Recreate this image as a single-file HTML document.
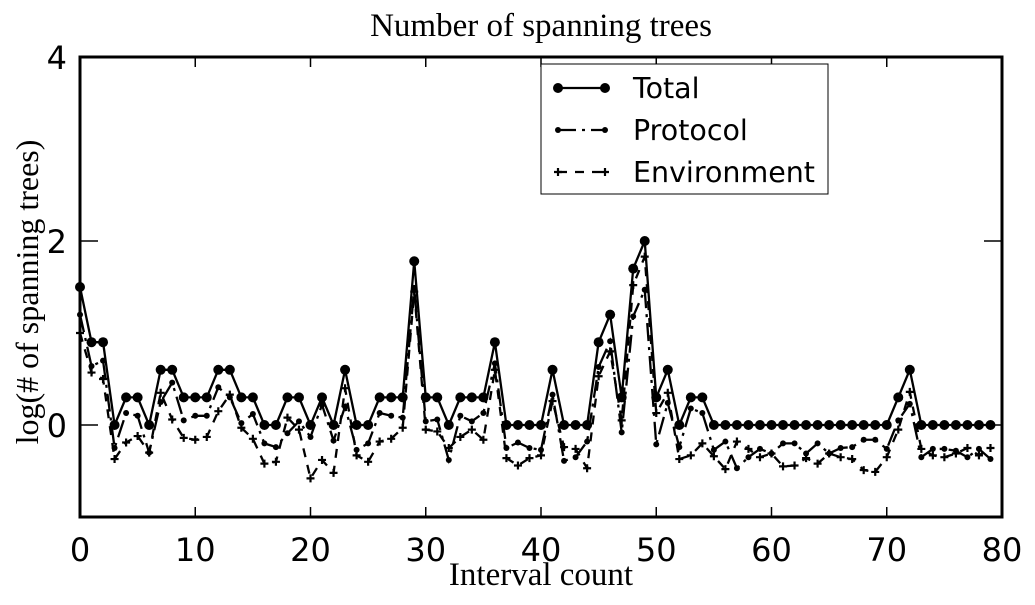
<!DOCTYPE html>
<html><head><meta charset="utf-8"><style>
body{margin:0;background:#fff}
svg text{fill:#000}
</style></head><body>
<svg width="1035" height="600" viewBox="0 0 1035 600" xmlns="http://www.w3.org/2000/svg">
<g id="plot"></g>
</svg>
<script>
const categories = Array.from({length:80},(_, i)=>i);
const totalValues = [1.5,0.9,0.9,0,0.3,0.3,0,0.6,0.6,0.3,0.3,0.3,0.6,0.6,0.3,0.3,0,0,0.3,0.3,0,0.3,0,0.6,0,0,0.3,0.3,0.3,1.78,0.3,0.3,0,0.3,0.3,0.3,0.9,0,0,0,0,0.6,0,0,0,0.9,1.2,0.3,1.7,2.0,0.3,0.6,0,0.3,0.3,0,0,0,0,0,0,0,0,0,0,0,0,0,0,0,0,0.3,0.6,0,0,0,0,0,0,0];
const protocolValues = [1.2,0.64,0.7,-0.25,0.13,0.1,-0.3,0.25,0.46,0.05,0.1,0.1,0.41,0.3,0.02,0.12,-0.2,-0.24,-0.09,0.04,-0.13,0.22,-0.17,0.2,-0.27,-0.2,0.13,0.1,0.08,1.49,0.04,0.06,-0.38,0.1,0.04,0.13,0.67,-0.25,-0.19,-0.25,-0.27,0.33,-0.39,-0.35,-0.18,0.63,0.91,-0.08,1.18,1.47,-0.21,0.24,-0.24,0.18,0.13,-0.27,-0.18,-0.47,-0.35,-0.26,-0.31,-0.2,-0.2,-0.31,-0.2,-0.31,-0.25,-0.24,-0.16,-0.16,-0.26,0.05,0.23,-0.35,-0.26,-0.26,-0.28,-0.35,-0.26,-0.37];
const environmentValues = [1.0,0.57,0.5,-0.37,-0.19,-0.12,-0.3,0.35,0.06,-0.14,-0.16,-0.13,0.15,0.33,-0.03,-0.15,-0.42,-0.4,0.08,-0.05,-0.58,-0.38,-0.52,0.4,-0.33,-0.4,-0.18,-0.15,-0.03,1.45,-0.05,-0.07,-0.25,-0.13,-0.05,-0.16,0.6,-0.36,-0.44,-0.36,-0.33,0.26,-0.24,-0.26,-0.47,0.53,0.8,0.05,1.52,1.83,0.13,0.35,-0.37,-0.33,-0.2,-0.34,-0.48,-0.18,-0.26,-0.35,-0.31,-0.45,-0.44,-0.36,-0.42,-0.31,-0.35,-0.37,-0.49,-0.51,-0.35,-0.05,0.36,-0.26,-0.33,-0.35,-0.31,-0.25,-0.33,-0.25];
const xTicks = [0,10,20,30,40,50,60,70,80];
const yTicks = [0,2,4];

const NS='http://www.w3.org/2000/svg';
const g=document.getElementById('plot');
const L=80,R=1002,T=57,B=517;
const xs=v=>L+(v-0)/80*(R-L);
const ys=v=>T+(4-v)/5*(B-T);
function mk(tag,attrs,parent){const e=document.createElementNS(NS,tag);for(const k in attrs)e.setAttribute(k,attrs[k]);(parent||g).appendChild(e);return e;}

let t=mk('text',{x:541,y:36,'font-family':'Liberation Serif, serif','font-size':33,'text-anchor':'middle'});t.textContent='Number of spanning trees';


t=mk('text',{x:541,y:585,'font-family':'Liberation Serif, serif','font-size':33,'text-anchor':'middle'});t.textContent='Interval count';


t=mk('text',{x:0,y:0,transform:'translate(38,292) rotate(-90)','font-family':'Liberation Serif, serif','font-size':32,'text-anchor':'middle'});t.textContent='log(# of spanning trees)';



xTicks.forEach(v=>{
  const x=xs(v);
  let l=mk('line',{x1:x,y1:B,x2:x,y2:B-10,stroke:'#000','stroke-width':1.5});
  
  
  l=mk('line',{x1:x,y1:T,x2:x,y2:T+10,stroke:'#000','stroke-width':1.5});
  
  
  const tx=mk('text',{x:x,y:561,'font-family':'DejaVu Sans, sans-serif','font-size':32,'text-anchor':'middle'});tx.textContent=v;
  
  
});
yTicks.forEach(v=>{
  const y=ys(v);
  let l=mk('line',{x1:L,y1:y,x2:L+18,y2:y,stroke:'#000','stroke-width':1.5});
  
  
  l=mk('line',{x1:R,y1:y,x2:R-18,y2:y,stroke:'#000','stroke-width':1.5});
  
  
  const tx=mk('text',{x:67,y:y+12,'font-family':'DejaVu Sans, sans-serif','font-size':32,'text-anchor':'end'});tx.textContent=v;
  
  
});

function series(vals,name,dash,marker){
  const pts=vals.map((v,i)=>xs(categories[i])+','+ys(v)).join(' ');
  const pl=mk('polyline',{points:pts,fill:'none',stroke:'#000','stroke-width':2.3,'stroke-dasharray':dash});
  
  
  vals.forEach((v,i)=>{
    const x=xs(categories[i]),y=ys(v);
    let m;
    if(marker==='big') m=mk('circle',{cx:x,cy:y,r:5,fill:'#000'});
    else if(marker==='small') m=mk('circle',{cx:x,cy:y,r:3,fill:'#000'});
    else m=mk('path',{d:`M${x-4},${y}H${x+4}M${x},${y-4}V${y+4}`,stroke:'#000','stroke-width':2.2});
    
    
  });
}
series(environmentValues,'environment','9,8','plus');
series(protocolValues,'protocol','18,6,3,6','small');
series(totalValues,'total','none','big');

const fr=mk('rect',{x:L,y:T,width:R-L,height:B-T,fill:'none',stroke:'#000','stroke-width':3});



const lg=mk('g',{});


mk('rect',{x:541,y:64,width:287,height:130,fill:'#fff',stroke:'#000','stroke-width':1},lg);
const items=[['Total','none','big',88],['Protocol','18,6,3,6','small',130],['Environment','9,8','plus',172]];
items.forEach(([lab,dash,mkr,y])=>{
  const e=mk('g',{},lg);
  
  
  mk('line',{x1:558,y1:y,x2:605,y2:y,stroke:'#000','stroke-width':2.3,'stroke-dasharray':dash},e);
  [558,605].forEach(x=>{
    if(mkr==='big') mk('circle',{cx:x,cy:y,r:5,fill:'#000'},e);
    else if(mkr==='small') mk('circle',{cx:x,cy:y,r:3,fill:'#000'},e);
    else mk('path',{d:`M${x-4},${y}H${x+4}M${x},${y-4}V${y+4}`,stroke:'#000','stroke-width':2.2},e);
  });
  const tx=mk('text',{x:633,y:y+10,'font-family':'DejaVu Sans, sans-serif','font-size':28.5},e);tx.textContent=lab;
});
</script>
</body></html>
